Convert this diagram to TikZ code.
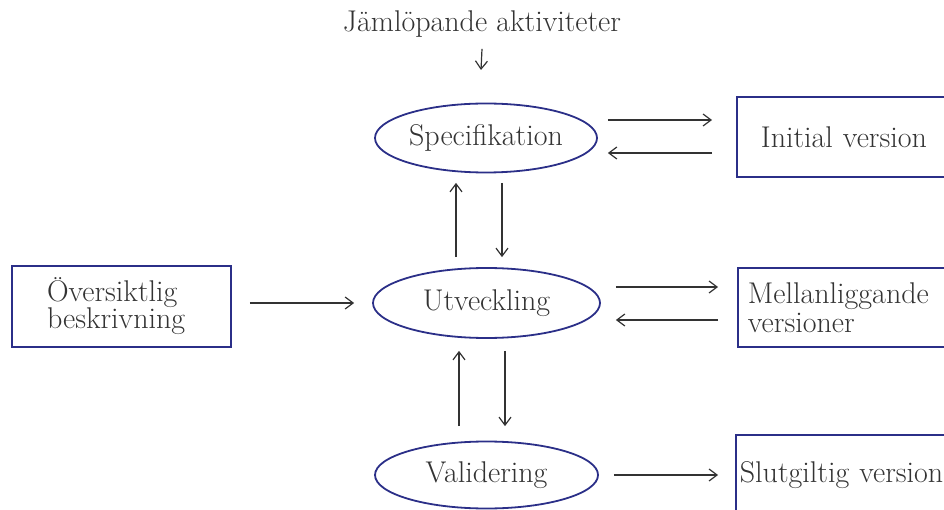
\documentclass[tikz,border=0pt]{standalone}
\usetikzlibrary{shapes.geometric,arrows.meta,calc}

\definecolor{rimblue}{HTML}{2B2F88}
\definecolor{inkgray}{HTML}{333333}

\begin{document}
\begin{tikzpicture}[x=1pt,y=-1pt,
  act/.style={ellipse, draw=rimblue, line width=1.8pt, text=inkgray,
    font=\fontsize{30}{28}\selectfont, minimum width=222pt, minimum height=69pt, inner sep=0pt},
  doc/.style={rectangle, draw=rimblue, line width=1.8pt, text=inkgray, align=left,
    font=\fontsize{30}{28}\selectfont, text width=260pt, minimum height=80pt, anchor=west},
  flow/.style={draw=inkgray, line width=1.2pt, -{Straight Barb[length=8pt,width=12pt]}}]
\useasboundingbox (0,0) rectangle (944,510);
\clip (0,0) rectangle (944,510);
\node[text=inkgray, font=\fontsize{30}{28}\selectfont] (jam) at (482,24) {Jämlöpande aktiviteter};
\coordinate (jamend) at (481,70);
\node[act] (spec) at (486,138) {Specifikation};
\node[act, minimum width=227pt, minimum height=70pt] (utv) at (486.5,303) {Utveckling};
\node[act, minimum width=223pt, minimum height=67pt] (val) at (486.5,475) {Validering};
\node[doc, inner xsep=24pt] (init) at (736,137) {Initial version};
\node[doc, inner xsep=10pt, minimum height=79pt, font=\fontsize{30}{29}\selectfont] (mel) at (737,307.5) {Mellanliggande\\versioner};
\node[doc, inner xsep=4pt] (slut) at (735,475) {Slutgiltig version};
\node[doc, anchor=center, inner xsep=35pt, text width=149pt, minimum height=81pt,
  font=\fontsize{30}{27}\selectfont] (ov) at (121.5,306.5) {Översiktlig\\beskrivning};
\draw[flow] ($(jam.south)+(0,8)$) -- (jamend);
\draw[flow] ($(spec.east)+(10,-18)$) -- ($(init.west)+(-24,-17)$);
\draw[flow] ($(init.west)+(-24,16)$) -- ($(spec.east)+(10,15)$);
\draw[flow] ($(utv.east)+(15,-16)$) -- ($(mel.west)+(-19,-20.5)$);
\draw[flow] ($(mel.west)+(-19,12.5)$) -- ($(utv.east)+(15,17)$);
\draw[flow] ($(ov.east)+(18,-3.5)$) -- ($(utv.west)+(-18,0)$);
\draw[flow] ($(val.east)+(15,0)$) -- ($(slut.west)+(-17,0)$);
\draw[flow] ($(utv.north)+(-30.5,-10)$) -- ($(spec.south)+(-30,9.5)$);
\draw[flow] ($(spec.south)+(16,9.5)$) -- ($(utv.north)+(15.5,-10)$);
\draw[flow] ($(val.north)+(-27.5,-14.5)$) -- ($(utv.south)+(-27.5,12)$);
\draw[flow] ($(utv.south)+(18.5,12)$) -- ($(val.north)+(18.5,-14.5)$);
\end{tikzpicture}
\end{document}
